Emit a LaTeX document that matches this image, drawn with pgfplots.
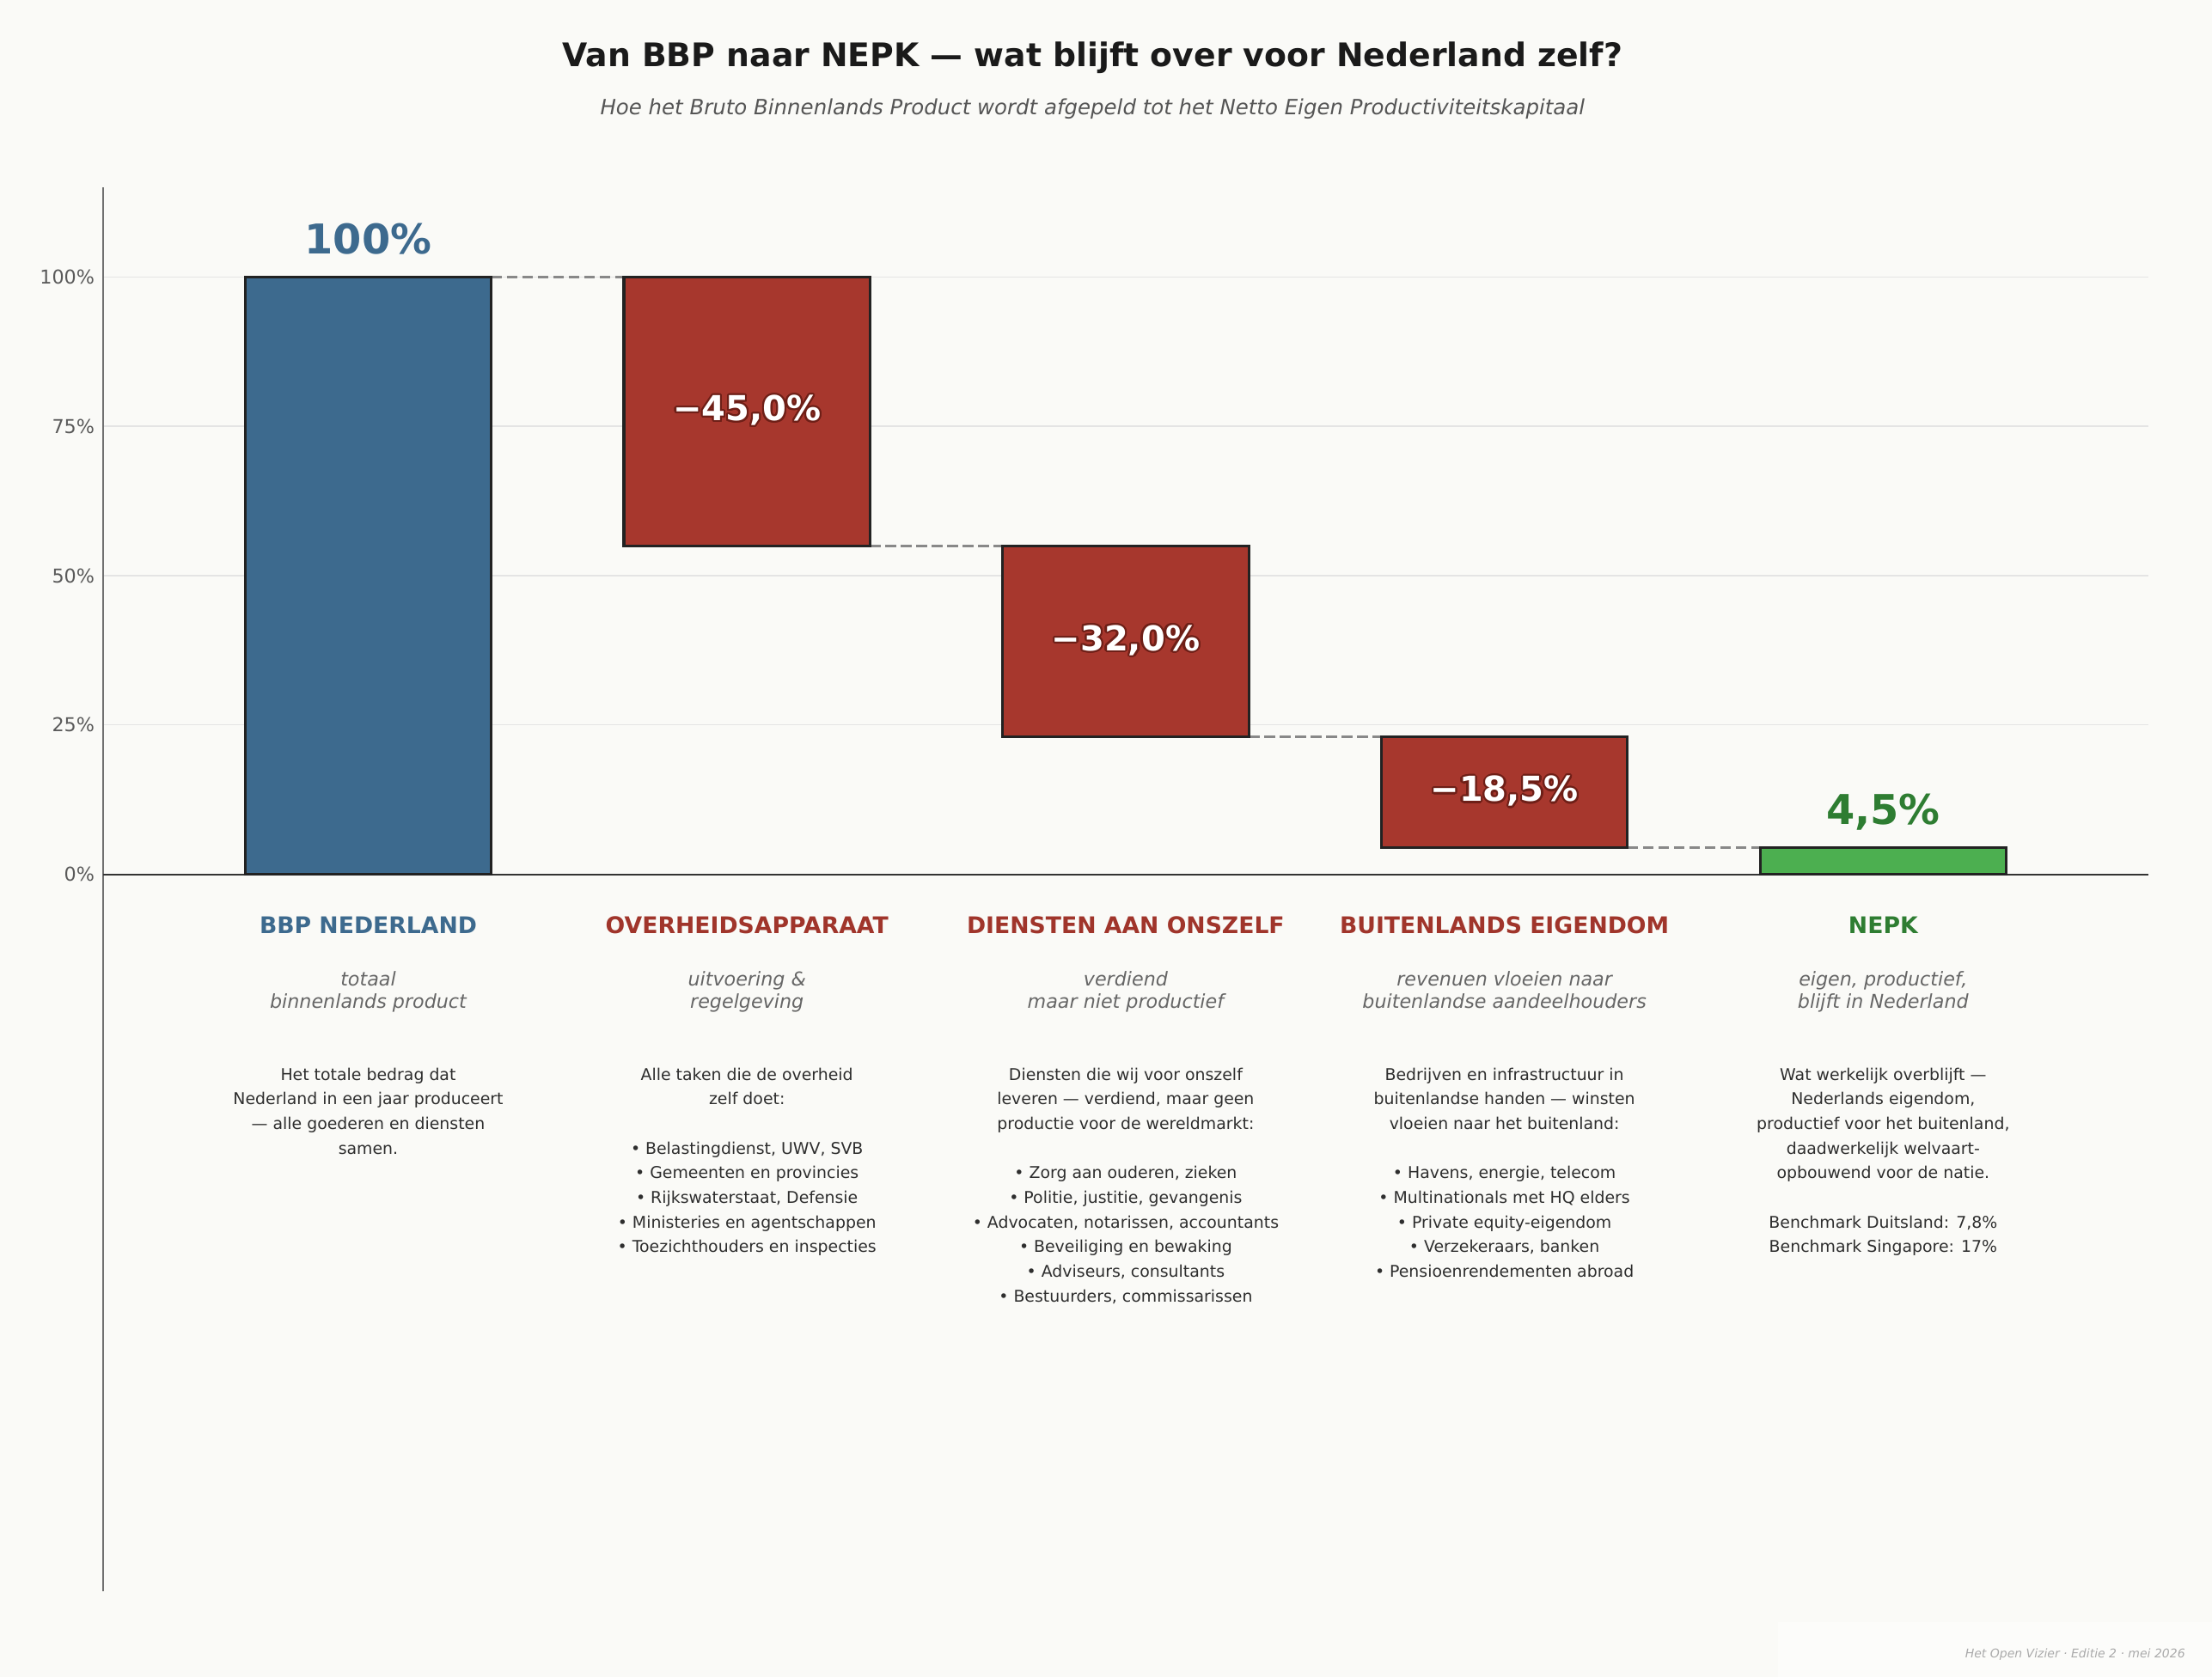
\documentclass[border=0pt]{standalone}
\usepackage{fontspec}
\setmainfont{DejaVu Sans}
\usepackage{pgfplots}
\pgfplotsset{compat=1.18}
\usepackage[copies]{contour}
\contourlength{1pt}

\definecolor{bg}{HTML}{FAFAF7}
\definecolor{boxbg}{HTML}{FCFCFA}
\definecolor{bbpblue}{HTML}{3D6A8E}
\definecolor{lossred}{HTML}{A7372D}
\definecolor{lossredtxt}{HTML}{A0352B}
\definecolor{outlinered}{HTML}{6E1F17}
\definecolor{nepkgreen}{HTML}{4CAF50}
\definecolor{nepkdark}{HTML}{2E7D32}
\definecolor{edgec}{HTML}{222222}
\definecolor{connc}{HTML}{888888}
\definecolor{gridc}{HTML}{E4E4E4}
\definecolor{zeroc}{HTML}{333333}
\definecolor{spinec}{HTML}{707070}
\definecolor{tickc}{HTML}{5A5A5A}
\definecolor{titlec}{HTML}{1A1A1A}
\definecolor{subc}{HTML}{555555}
\definecolor{descc}{HTML}{2E2E2E}
\definecolor{notec}{HTML}{666666}
\definecolor{footc}{HTML}{AAAAAA}

\tikzset{
  barstyle/.style={draw=edgec, line width=1.4pt, line join=miter},
  connline/.style={draw=connc, line width=1.5pt, dash pattern=on 5.6pt off 2.5pt},
  cat/.style={anchor=base, inner sep=0pt, font=\bfseries\fontsize{12}{14}\selectfont},
  note/.style={anchor=north, inner sep=0pt, align=center, text=notec,
               font=\itshape\fontsize{10}{11.7}\selectfont},
  desc/.style={anchor=north, inner sep=0pt, align=center, text=descc,
               font=\fontsize{8.5}{12.9}\selectfont},
  inval/.style={anchor=center, inner sep=0pt, text=white,
                font=\bfseries\fontsize{18}{21}\selectfont},
  topval/.style={anchor=base, inner sep=0pt,
                 font=\bfseries\fontsize{21.5}{26}\selectfont},
}

\begin{document}
\begin{tikzpicture}
\useasboundingbox (0pt,0pt) rectangle (1158.3pt,878.4pt);
\fill[bg] (0pt,0pt) rectangle (1158.3pt,878.4pt);

\begin{axis}[
  at={(54pt,45pt)}, anchor=south west,
  width=1071pt, height=735.3pt, scale only axis,
  xmin=-0.7, xmax=4.7, ymin=-120, ymax=115,
  clip=false,
  axis line style={draw=none},
  xtick=\empty,
  ytick={0,25,50,75,100},
  yticklabels={0\%,25\%,50\%,75\%,100\%},
  major tick length=0pt,
  yticklabel style={font=\fontsize{10}{12}\selectfont, text=tickc, xshift=-1pt},
  ymajorgrids,
  major grid style={gridc, line width=0.6pt},
]

% left spine and zero line
\draw[spinec, line width=0.8pt] (rel axis cs:0,0) -- (rel axis cs:0,1);
\draw[zeroc, line width=1pt] (axis cs:-0.7,0) -- (axis cs:4.7,0);

% dashed connectors between the waterfall steps
\addplot[connline] coordinates {(0.325,100) (0.675,100)};
\addplot[connline] coordinates {(1.325,55) (1.675,55)};
\addplot[connline] coordinates {(2.325,23) (2.675,23)};
\addplot[connline] coordinates {(3.325,4.5) (3.675,4.5)};

% waterfall bars: BBP 100, -45, -32, -18.5, NEPK 4.5
\addplot[barstyle, fill=bbpblue] coordinates {(-0.325,0) (0.325,0) (0.325,100) (-0.325,100)} -- cycle;
\addplot[barstyle, fill=lossred] coordinates {(0.675,55) (1.325,55) (1.325,100) (0.675,100)} -- cycle;
\addplot[barstyle, fill=lossred] coordinates {(1.675,23) (2.325,23) (2.325,55) (1.675,55)} -- cycle;
\addplot[barstyle, fill=lossred] coordinates {(2.675,4.5) (3.325,4.5) (3.325,23) (2.675,23)} -- cycle;
\addplot[barstyle, fill=nepkgreen] coordinates {(3.675,0) (4.325,0) (4.325,4.5) (3.675,4.5)} -- cycle;

% value labels
\node[topval, text=bbpblue] at (axis cs:0,103.9) {100\%};
\node[topval, text=nepkdark] at (axis cs:4,8.4) {4,5\%};
\node[inval] at (axis cs:1,77.5) {\contour{outlinered}{−45,0\%}};
\node[inval] at (axis cs:2,39) {\contour{outlinered}{−32,0\%}};
\node[inval] at (axis cs:3,13.75) {\contour{outlinered}{−18,5\%}};

% category names
\node[cat, text=bbpblue]    at (axis cs:0,-9.94) {BBP NEDERLAND};
\node[cat, text=lossredtxt] at (axis cs:1,-9.94) {OVERHEIDSAPPARAAT};
\node[cat, text=lossredtxt] at (axis cs:2,-9.94) {DIENSTEN AAN ONSZELF};
\node[cat, text=lossredtxt] at (axis cs:3,-9.94) {BUITENLANDS EIGENDOM};
\node[cat, text=nepkdark]   at (axis cs:4,-9.94) {NEPK};

% short notes
\node[note] at (axis cs:0,-15.94) {\strut totaal\\binnenlands product};
\node[note] at (axis cs:1,-15.94) {\strut uitvoering \&\\regelgeving};
\node[note] at (axis cs:2,-15.94) {\strut verdiend\\maar niet productief};
\node[note] at (axis cs:3,-15.94) {\strut revenuen vloeien naar\\buitenlandse aandeelhouders};
\node[note] at (axis cs:4,-15.94) {\strut eigen, productief,\\blijft in Nederland};

% descriptions
\node[desc] at (axis cs:0,-31.5) {\strut Het totale bedrag dat\\Nederland in een jaar produceert\\— alle goederen en diensten\\samen.};
\node[desc] at (axis cs:1,-31.5) {\strut Alle taken die de overheid\\zelf doet:\\[12.9pt]• Belastingdienst, UWV, SVB\\• Gemeenten en provincies\\• Rijkswaterstaat, Defensie\\• Ministeries en agentschappen\\• Toezichthouders en inspecties};
\node[desc] at (axis cs:2,-31.5) {\strut Diensten die wij voor onszelf\\leveren — verdiend, maar geen\\productie voor de wereldmarkt:\\[12.9pt]• Zorg aan ouderen, zieken\\• Politie, justitie, gevangenis\\• Advocaten, notarissen, accountants\\• Beveiliging en bewaking\\• Adviseurs, consultants\\• Bestuurders, commissarissen};
\node[desc] at (axis cs:3,-31.5) {\strut Bedrijven en infrastructuur in\\buitenlandse handen — winsten\\vloeien naar het buitenland:\\[12.9pt]• Havens, energie, telecom\\• Multinationals met HQ elders\\• Private equity-eigendom\\• Verzekeraars, banken\\• Pensioenrendementen abroad};
\node[desc] at (axis cs:4,-31.5) {\strut Wat werkelijk overblijft —\\Nederlands eigendom,\\productief voor het buitenland,\\daadwerkelijk welvaart-\\opbouwend voor de natie.\\[12.9pt]Benchmark Duitsland: 7,8\%\\Benchmark Singapore: 17\%};
\end{axis}

% titles
\node[anchor=base, inner sep=0pt, text=titlec, font=\bfseries\fontsize{17}{20}\selectfont]
  at (572.1pt,843.4pt) {Van BBP naar NEPK — wat blijft over voor Nederland zelf?};
\node[anchor=base, inner sep=0pt, text=subc, font=\itshape\fontsize{11}{13}\selectfont]
  at (572.1pt,818.4pt) {Hoe het Bruto Binnenlands Product wordt afgepeld tot het Netto Eigen Productiviteitskapitaal};

% footer
\fill[boxbg] (931pt,0pt) rectangle (1158.3pt,28.8pt);
\node[anchor=base east, inner sep=0pt, text=footc, font=\itshape\fontsize{6.3}{7.5}\selectfont]
  at (1144.4pt,10.35pt) {Het Open Vizier · Editie 2 · mei 2026};
\end{tikzpicture}
\end{document}
